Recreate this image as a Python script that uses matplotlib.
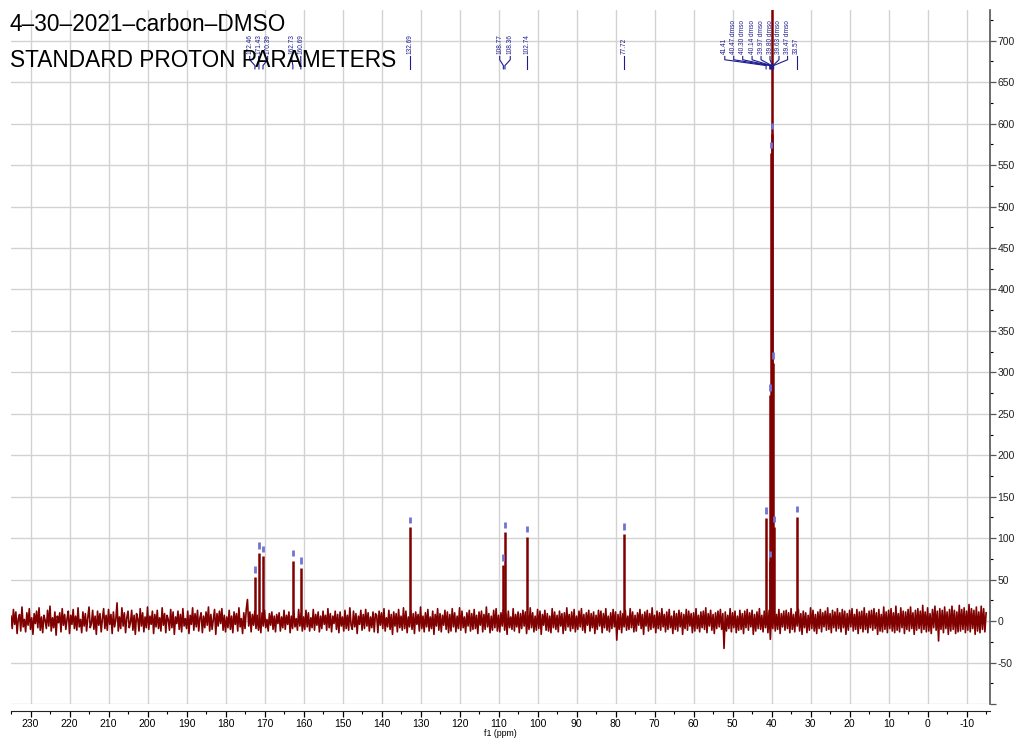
import numpy as np
import matplotlib
matplotlib.use("Agg")
import matplotlib.pyplot as plt
from matplotlib.ticker import MultipleLocator, FuncFormatter

plt.rcParams['font.family'] = ['Liberation Sans', 'DejaVu Sans']
plt.rcParams['axes.unicode_minus'] = False

# --- data -------------------------------------------------------------
title1 = "4\u201330\u20132021\u2013carbon\u2013DMSO"
title2 = "STANDARD PROTON PARAMETERS"

# baseline, one value every 0.3125 ppm from 235 ppm down
noise_start = 235.0
noise_step = 0.3125
noise_vals = [
    6, -9, 14, -4, 11, -15, 3, 8, -12, 17, -7, 2, -13, 10, -5, 15, -10, 4, -16, 9,
    -3, 12, -8, 16, -11, 5, -14, 7, 1, -9, 13, -6, 18, -12, 4, -8, 11, -17, 6, -2,
    10, -13, 15, -5, 8, -10, 3, 12, -15, 7, -4, 14, -9, 6, -11, 16, -7, 2, -14, 11,
    -6, 9, -12, 4, 17, -8, -3, 13, -10, 6, -16, 12, -5, 9, -13, 3, 15, -9, 7, -11,
    14, -4, 8, -15, 11, -7, 2, 22, -12, 5, -9, 16, -6, 10, -14, 4, 12, -8, -2, 13,
    -11, 7, -16, 9, 3, -12, 15, -6, 10, -13, 5, -8, 17, -10, 6, -4, 12, -15, 8, -7,
    13, -9, 4, -12, 16, -5, 9, -14, 7, 2, -11, 14, -8, 11, -16, 5, -3, 12, -10, 8,
    -13, 15, -6, 3, -9, 12, -15, 7, -4, 16, -11, 9, -7, 13, -12, 4, 10, -14, 6, -8,
    11, -5, 17, -12, 8, -10, 2, 14, -16, 9, -6, 12, -3, 15, -11, 7, -13, 5, -8, 13,
    -10, 6, -14, 11, -4, 9, -12, 16, -7, 3, -15, 10, -9, 14, 26, -6, 11, -13, 8, -5,
    12, -9, 7, -11, 4, -14, 10, -6, 13, -8, 2, -12, 9, -5, 11, -10, 6, -13, 8, -3,
    10, -12, 5, -8, 13, -10, 7, -4, 11, -14, 6, -9, 12, -7, 3, -11, 14, -6, 9, -12,
    5, -10, 13, -7, 10, -12, 4, -8, 14, -11, 8, -5, 11, -13, 6, -9, 12, -4, 7, -11,
    15, -8, 9, -13, 6, -3, 12, -10, 8, -14, 11, -6, 5, -12, 13, -9, 7, -11, 16, -5,
    -10, 12, -7, 9, -15, 6, -4, 13, -11, 8, -9, 14, -6, 10, -12, 5, -8, 11, -13, 9,
    7, -14, 12, -5, 10, -9, 15, -12, 4, -7, 13, -10, 8, -16, 11, -6, 9, -13, 14, -8,
    6, -11, 16, -9, 12, -14, 5, -7, 13, -10, 9, -15, 11, -4, 8, -12, 17, -9, 6, -13,
    10, -7, 14, -12, 5, -9, 12, -16, 8, -6, 15, -11, 9, -13, 7, -5, 13, -10, 11, -14,
    8, -12, 15, -7, 10, -13, 6, -9, 16, -11, 12, -8, 5, -14, 10, -6, 13, -12, 9, -10,
    14, -9, 7, -15, 11, -5, 12, -13, 8, -10, 17, -7, 9, -14, 6, -11, 13, -8, 15, -12,
    7, -13, 10, -6, 14, -11, 9, -16, 12, -8, 5, -10, 15, -12, 8, -7, 11, -14, 9, -9,
    13, -6, 11, -15, 7, -10, 16, -8, 10, -13, 6, -11, 14, -9, 12, -16, 8, -5, 13, -11,
    9, -12, 6, -14, 15, -8, 11, -10, 7, -13, 12, -6, 9, -15, 10, -11, 16, -7, 8, -12,
    11, -9, 14, -13, 6, -10, 12, -7, 15, -11, 8, -14, 10, -5, 13, -12, 9, -8, 11, -15,
    7, -10, 13, -6, 12, -14, 9, -8, 15, -11, 6, -13, 10, -9, 14, -7, 11, -23, 8, -10,
    12, -14, 9, -7, 13, -11, 6, -10, 15, -8, 11, -13, 7, -12, 10, -5, 14, -9, 8, -16,
    11, -6, 13, -12, 9, -10, 16, -8, 7, -14, 12, -9, 10, -11, 15, -7, 8, -13, 11, -10,
    14, -8, 6, -15, 12, -10, 9, -12, 13, -7, 10, -16, 8, -9, 14, -11, 12, -6, 9, -14,
    10, -12, 15, -9, 7, -13, 11, -8, 12, -10, 16, -14, 9, -6, 13, -11, 8, -15, 10, -9,
    12, -7, 14, -10, 9, -33, 11, -12, 7, -9, 15, -13, 10, -8, 12, -14, 6, -11, 13, -10,
    9, -15, 12, -8, 14, -11, 10, -7, 13, -16, 8, -12, 11, -9, 15, -10, 7, -13, 12, -8,
    10, -14, 13, -22, 11, -9, 16, -12, 8, -10, 14, -15, 9, -7, 12, -11, 13, -9, 10, -14,
    15, -10, 8, -13, 11, -6, 14, -12, 9, -16, 12, -8, 10, -14, 7, -11, 16, -9, 13, -12,
    8, -15, 11, -9, 14, -13, 10, -7, 12, -11, 16, -10, 9, -14, 13, -8, 11, -12, 15, -9,
    10, -13, 14, -8, 12, -16, 9, -11, 13, -7, 15, -12, 8, -10, 14, -15, 11, -9, 12, -13,
    16, -10, 9, -14, 12, -8, 13, -11, 15, -9, 10, -16, 14, -12, 8, -13, 17, -10, 11, -14,
    13, -9, 15, -12, 10, -14, 18, -11, 9, -13, 16, -8, 12, -15, 11, -10, 14, -12, 17, -9,
    10, -16, 13, -11, 15, -9, 12, -14, 19, -10, 11, -13, 16, -12, 9, -15, 14, -8, 18, -11,
    12, -24, 15, -10, 13, -14, 17, -9, 11, -16, 14, -12, 18, -10, 13, -15, 11, -13, 19, -12,
    14, -10, 16, -14, 12, -11, 20, -13, 15, -9, 13, -16, 17, -12, 11, -14, 18, -10, 15, -13,
    10,
]

peak_ppm = [172.46, 171.43, 170.39, 162.73, 160.69, 132.69, 108.77, 108.36, 102.74,
            77.72, 41.41, 40.47, 40.30, 40.14, 39.97, 39.80, 39.63, 39.47, 33.57]
peak_height = [53, 82, 78, 73, 64, 113, 68, 107, 102,
               105, 124, 72, 273, 565, 780, 588, 311, 114, 126]
peak_labels = ["172.46", "171.43", "170.39", "162.73", "160.69", "132.69", "108.77",
               "108.36", "102.74", "77.72", "41.41", "40.47 dmso", "40.30 dmso",
               "40.14 dmso", "39.97 dmso", "39.80 dmso", "39.63 dmso", "39.47 dmso",
               "33.57"]

# --- layout -------------------------------------------------------------
# where each rotated label sits (ppm), spread apart like the software does
label_pos = [173.8, 171.5, 169.2, 163.0, 160.7, 132.69, 109.7, 107.0, 102.74,
             77.72, 52.0, 49.7, 47.4, 45.0, 42.7, 40.4, 38.1, 35.9, 33.57]

RED = "#800000"
NAVY = "#1c1c8f"
MARK = "#7272d2"
GRID = "#d2d2d2"

fig = plt.figure(figsize=(10.15, 7.38), dpi=100)
ax = fig.add_axes([11 / 1015, 34 / 738, 979 / 1015, 694 / 738])

noise_ppm = noise_start - noise_step * np.arange(len(noise_vals))
ax.plot(noise_ppm, noise_vals, color=RED, lw=1.2, zorder=3)
ax.vlines(peak_ppm, 0, peak_height, color=RED, lw=1.8, zorder=3)
ax.vlines(peak_ppm, np.array(peak_height) + 5, np.array(peak_height) + 13,
          color=MARK, lw=2.0, zorder=4)

# peak labels + leader lines
for lab, lx, px in zip(peak_labels, label_pos, peak_ppm):
    ax.plot([lx, lx, px, px], [681, 677, 670, 666], color=NAVY, lw=0.8,
            zorder=5, clip_on=False)
    ax.text(lx, 684, lab, rotation=90, ha="center", va="bottom", fontsize=4.7,
            color=NAVY, zorder=5)

ax.set_xlim(235, -16)
ax.set_ylim(-100, 737)

ax.xaxis.set_major_locator(MultipleLocator(10))
ax.xaxis.set_minor_locator(MultipleLocator(5))
ax.yaxis.set_major_locator(MultipleLocator(50))
ax.yaxis.set_minor_locator(MultipleLocator(25))
ax.yaxis.set_major_formatter(FuncFormatter(lambda v, p: "" if v < -60 else f"{v:.0f}"))

ax.grid(True, which="major", color=GRID, lw=1.0, zorder=0)
ax.set_axisbelow(True)

for s in ["left", "top"]:
    ax.spines[s].set_visible(False)
ax.spines["bottom"].set_position(("outward", 5))
ax.spines["bottom"].set_color("#222222")
ax.spines["right"].set_color("#555555")
ax.spines["right"].set_linewidth(1.2)

ax.yaxis.tick_right()
ax.tick_params(axis="both", which="major", labelsize=7.5, length=4, width=0.9, pad=1.5)
ax.tick_params(axis="both", which="minor", length=2, width=0.8)
ax.tick_params(axis="y", colors="#555555", labelcolor="#222222")

ax.set_xlabel("f1 (ppm)", fontsize=6.3, labelpad=0)

fig.text(10 / 1015, 1 - 31 / 738, title1, fontsize=16.3, va="baseline", ha="left")
fig.text(10 / 1015, 1 - 67 / 738, title2, fontsize=16.3, va="baseline", ha="left")

fig.savefig("out.png", dpi=100)
